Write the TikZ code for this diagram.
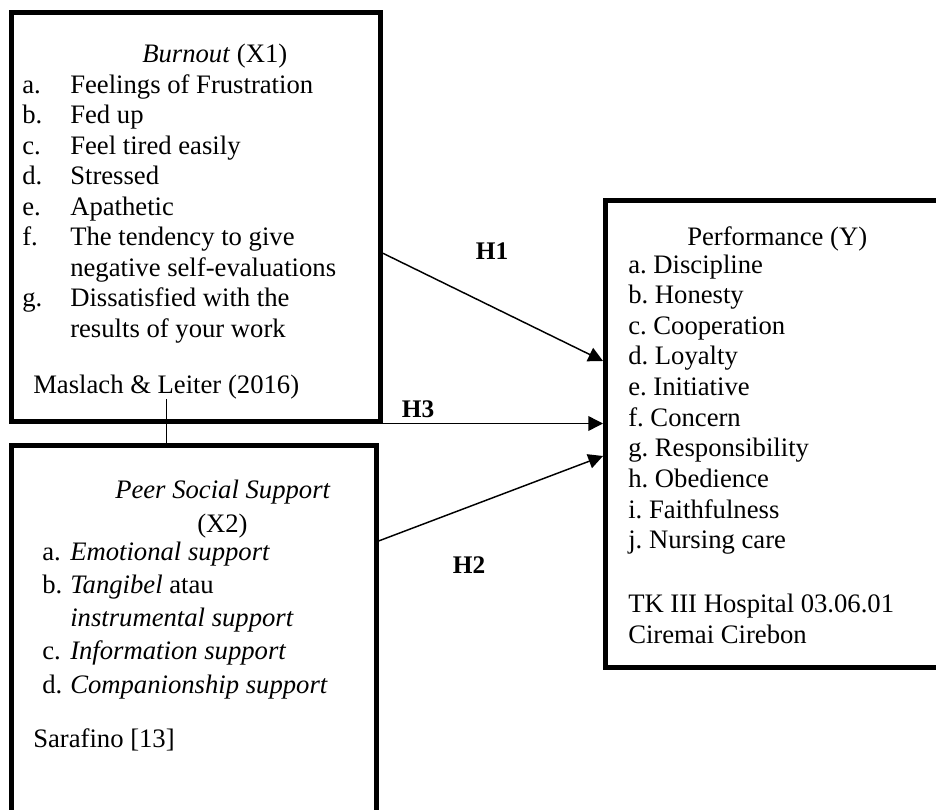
\documentclass[tikz,border=0pt]{standalone}
\usepackage{fontspec}
\setmainfont{Liberation Serif}
\usetikzlibrary{arrows.meta, positioning, calc}

\begin{document}
\begin{tikzpicture}[
    x=0.75pt, y=-0.75pt,
    varbox/.style={rectangle, draw, line width=3.75pt, inner sep=0pt},
    txt/.style={anchor=base west, inner sep=0pt, font=\fontsize{20}{23}\selectfont\frenchspacing},
    hyp/.style={inner sep=0pt, font=\fontsize{19}{22}\selectfont\bfseries},
    arrow/.style={-{Triangle[length=11pt, width=11pt]}, line width=1.1pt},
    link/.style={line width=1pt}
]
\useasboundingbox (0,0) rectangle (936,810);
\clip (0,0) rectangle (936,810);

% ========== CAJAS ==========
\node[varbox, minimum width=369*0.75pt, minimum height=408.5*0.75pt] (burnout) at (196,216.75) {};
\node[varbox, minimum width=364.5*0.75pt, minimum height=414.5*0.75pt] (peer) at (193.75,652.75) {};
\node[varbox, minimum width=354.5*0.75pt, minimum height=467*0.75pt] (perf) at (782.75,434) {};

% ========== BURNOUT (X1) ==========
\node[txt] (titleX1) at (142,62) {\textit{Burnout} (X1)};
\foreach \lbl/\entry [count=\i from 0] in {a./Feelings of Frustration, b./Fed up, c./Feel tired easily, d./Stressed, e./Apathetic, f./The tendency to give, /negative self-evaluations, g./Dissatisfied with the, /results of your work} {
    \node[txt] (lblX1-\i) at (22,{93+30.5*\i}) {\lbl};
    \node[txt] (itemX1-\i) at (70,{93+30.5*\i}) {\entry};
}
\node[txt] (maslach) at (33,393) {Maslach \& Leiter (2016)};

% ========== PEER SOCIAL SUPPORT (X2) ==========
\node[txt] (titleX2) at (115,498) {\textit{Peer Social Support}};
\node[txt] (codeX2) at (197,532) {(X2)};
\foreach \lbl/\entry [count=\i from 0] in {a./\textit{Emotional support}, b./{\textit{Tangibel} atau}, /\textit{instrumental support}, c./\textit{Information support}, d./\textit{Companionship support}} {
    \node[txt] (lblX2-\i) at (42,{560+33.3*\i}) {\lbl};
    \node[txt] (itemX2-\i) at (70,{560+33.3*\i}) {\entry};
}
\node[txt] (sarafino) at (33,747) {Sarafino [13]};

% ========== PERFORMANCE (Y) ==========
\node[txt] (titleY) at (687,245) {Performance (Y)};
\foreach \entry [count=\i from 0] in {a. Discipline, b. Honesty, c. Cooperation, d. Loyalty, e. Initiative, f. Concern, g. Responsibility, h. Obedience, i. Faithfulness, j. Nursing care} {
    \node[txt] (itemY-\i) at (628,{273+30.65*\i}) {\entry};
}
\node[txt] (hospital) at (628,612) {TK III Hospital 03.06.01};
\node[txt] (city) at (628,643) {Ciremai Cirebon};

% ========== HIPOTESIS ==========
\draw[link] (maslach.south) -- (maslach.south |- peer.north);
\draw[arrow] ([yshift=-27.4pt]burnout.east) -- ([yshift=54.75pt]perf.west);
\draw[arrow] (burnout.south east) -- (burnout.south east -| perf.west);
\draw[arrow] ([yshift=83.8pt]peer.east) -- ([yshift=-16.5pt]perf.west);

\node[hyp] (h1) at (492,251) {H1};
\node[hyp] (h3) at (418,409) {H3};
\node[hyp] (h2) at (469,565) {H2};

\end{tikzpicture}
\end{document}
